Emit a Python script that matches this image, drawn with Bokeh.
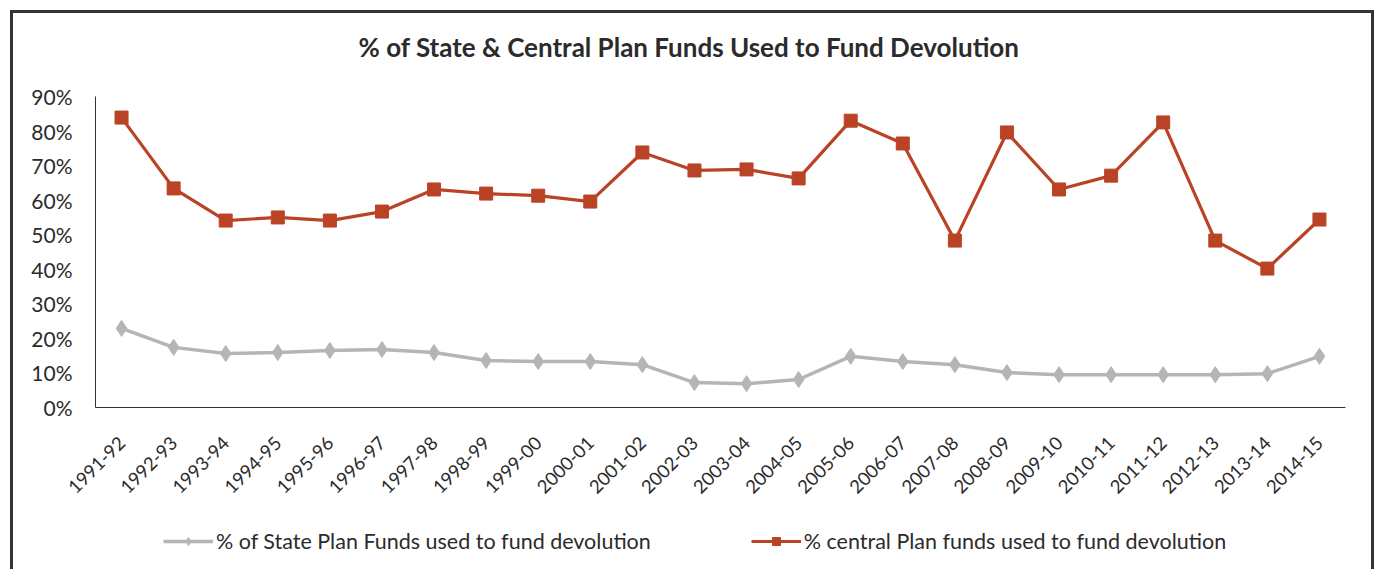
import math
from bokeh.plotting import figure
from bokeh.layouts import column
from bokeh.models import (Legend, LegendItem, NumeralTickFormatter, FixedTicker, Range1d,
                          FactorRange, Title)
from bokeh.embed import file_html
from bokeh.resources import INLINE

years = ["1991-92", "1992-93", "1993-94", "1994-95", "1995-96", "1996-97", "1997-98",
         "1998-99", "1999-00", "2000-01", "2001-02", "2002-03", "2003-04", "2004-05",
         "2005-06", "2006-07", "2007-08", "2008-09", "2009-10", "2010-11", "2011-12",
         "2012-13", "2013-14", "2014-15"]
state_pct = [0.229, 0.174, 0.156, 0.159, 0.165, 0.168, 0.159, 0.136, 0.133, 0.133, 0.124,
             0.072, 0.069, 0.081, 0.148, 0.133, 0.124, 0.101, 0.095, 0.095, 0.095, 0.095,
             0.098, 0.148]
central_pct = [0.839, 0.634, 0.541, 0.550, 0.541, 0.567, 0.631, 0.619, 0.613, 0.596, 0.738,
               0.686, 0.689, 0.663, 0.830, 0.764, 0.483, 0.796, 0.631, 0.671, 0.825, 0.483,
               0.402, 0.544]
y_ticks = [0.0, 0.1, 0.2, 0.3, 0.4, 0.5, 0.6, 0.7, 0.8, 0.9]

TITLE = "% of State & Central Plan Funds Used to Fund Devolution"
STATE_LABEL = "% of State Plan Funds used to fund devolution"
CENTRAL_LABEL = "% central Plan funds used to fund devolution"

FONT = "Lato"
TXT = "#2b2b2b"
RED = "#BA4326"
GRAY = "#B4B5B8"
W = 1358

p = figure(x_range=FactorRange(factors=years, range_padding=0), y_range=Range1d(0, 0.9),
           width=W, height=492, output_backend="svg", toolbar_location=None, title=TITLE,
           min_border_left=82, min_border_top=83, min_border_right=26,
           min_border_bottom=98)

p.title.text_font = FONT
p.title.text_font_size = "26px"
p.title.text_font_style = "bold"
p.title.text_color = TXT
p.title.align = "left"
p.title.offset = 263
p.title.standoff = 0
# spacer title stacked between the frame and the real title
p.add_layout(Title(text=" ", text_font_size="1px", standoff=31), "above")

p.xgrid.visible = False
p.ygrid.visible = False
p.outline_line_color = None

p.yaxis.ticker = FixedTicker(ticks=y_ticks)
p.yaxis.formatter = NumeralTickFormatter(format="0%")
p.yaxis.major_tick_line_color = None
p.yaxis.minor_tick_line_color = None
p.yaxis.major_tick_out = 0
p.yaxis.major_label_standoff = 23
p.yaxis.major_label_text_font = FONT
p.yaxis.major_label_text_font_size = "21px"
p.yaxis.major_label_text_color = TXT
p.yaxis.axis_line_color = "#333333"

p.xaxis.major_tick_line_color = None
p.xaxis.major_tick_out = 0
p.xaxis.major_label_orientation = math.pi / 4
p.xaxis.major_label_standoff = 32
p.xaxis.major_label_text_font = FONT
p.xaxis.major_label_text_font_size = "18.5px"
p.xaxis.major_label_text_color = TXT
p.xaxis.axis_line_color = "#333333"

p.line(years, state_pct, line_color=GRAY, line_width=3.5)
p.scatter(years, state_pct, marker="diamond", size=16, fill_color=GRAY, line_color=GRAY)
p.line(years, central_pct, line_color=RED, line_width=3.2)
p.scatter(years, central_pct, marker="square", size=13, fill_color=RED, line_color=RED)

# legend strip below the chart (its renderers lie outside its visible range)
lg = figure(x_range=FactorRange(factors=years, range_padding=0), y_range=Range1d(10, 11),
            width=W, height=64, output_backend="svg", toolbar_location=None,
            min_border=0, x_axis_location=None, y_axis_location=None)
lg.xgrid.visible = False
lg.ygrid.visible = False
lg.outline_line_color = None
l1 = lg.line(years, state_pct, line_color=GRAY, line_width=3.5)
m1 = lg.scatter(years, state_pct, marker="diamond", size=16, fill_color=GRAY, line_color=GRAY)
l2 = lg.line(years, central_pct, line_color=RED, line_width=3.2)
m2 = lg.scatter(years, central_pct, marker="square", size=13, fill_color=RED, line_color=RED)

legend = Legend(items=[LegendItem(label=STATE_LABEL, renderers=[l1, m1]),
                       LegendItem(label=CENTRAL_LABEL, renderers=[l2, m2])],
                orientation="horizontal", location=(68, 15), spacing=100,
                glyph_width=50, glyph_height=20, label_standoff=3,
                label_text_font=FONT, label_text_font_size="21.5px",
                label_text_color=TXT, border_line_color=None, padding=0,
                margin=0, background_fill_alpha=0)
lg.add_layout(legend)

layout = column(p, lg, spacing=0, margin=(10, 0, 0, 10),
                styles={"border-top": "3px solid #333333",
                        "border-left": "3px solid #333333",
                        "border-right": "3px solid #333333"})

open("out.html", "w").write(file_html(layout, INLINE))
